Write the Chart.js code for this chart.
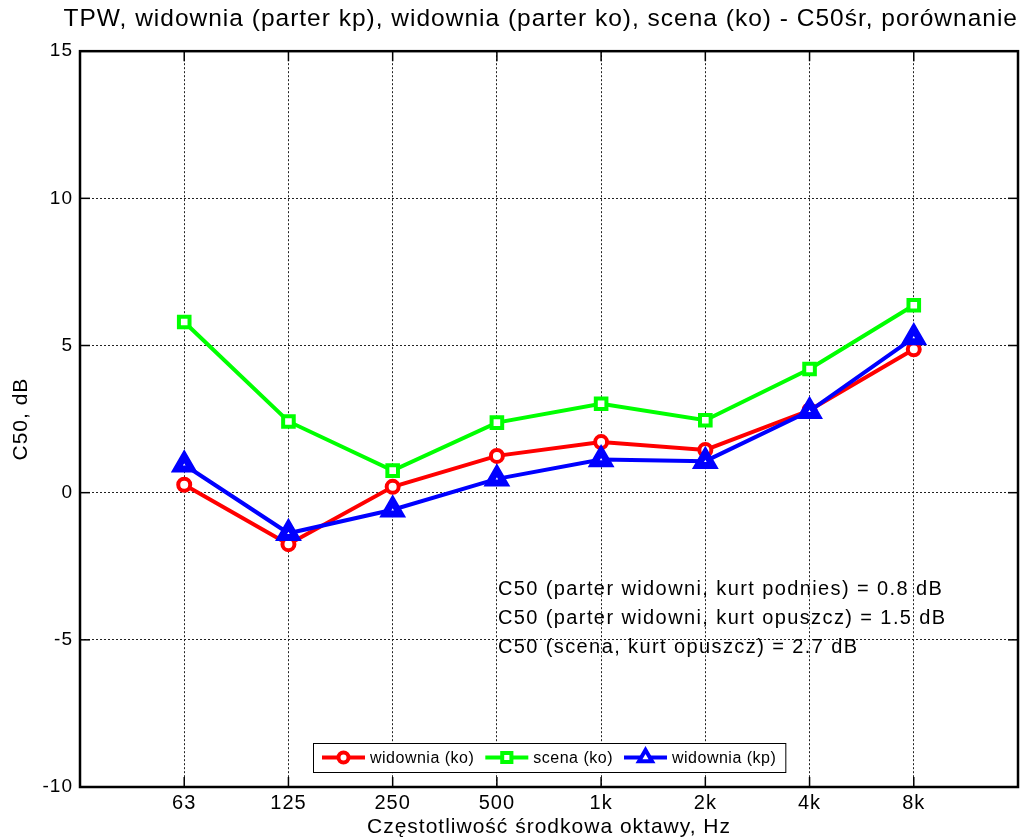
<!DOCTYPE html>
<html>
<head>
<meta charset="utf-8">
<script src="https://cdn.jsdelivr.net/npm/chart.js@4.4.1/dist/chart.umd.min.js"></script>
<style>body{margin:0;background:#fff}</style>
</head>
<body>
<canvas id="myChart" width="1026" height="840"></canvas>
<script>
// dane
const freqLabels = ['63', '125', '250', '500', '1k', '2k', '4k', '8k'];
const widowniaKo = [0.27, -1.75, 0.2, 1.25, 1.72, 1.45, 2.8, 4.87];
const scenaKo = [5.8, 2.42, 0.75, 2.38, 3.02, 2.46, 4.2, 6.37];
const widowniaKp = [0.95, -1.38, -0.58, 0.47, 1.13, 1.07, 2.77, 5.27];
const seriesNames = ['widownia (ko)', 'scena (ko)', 'widownia (kp)'];
const notes = [
    'C50 (parter widowni, kurt podnies) = 0.8 dB',
    'C50 (parter widowni, kurt opuszcz) = 1.5 dB',
    'C50 (scena, kurt opuszcz) = 2.7 dB'
];
const FONT = '"Liberation Sans", Arial, Helvetica, sans-serif';
const SPACING = '1px';

function toPoints(vals) {
    return vals.map((v, i) => ({ x: i, y: v }));
}

function strokeLine(ctx, x1, y1, x2, y2) {
    ctx.beginPath();
    ctx.moveTo(x1, y1);
    ctx.lineTo(x2, y2);
    ctx.stroke();
}

// odstep liter jak w oryginale (matlab)
const spacingPlugin = {
    id: 'spacing',
    beforeUpdate(chart) { chart.ctx.letterSpacing = SPACING; },
    beforeLayout(chart) { chart.ctx.letterSpacing = SPACING; },
    beforeDraw(chart) { chart.ctx.letterSpacing = SPACING; }
};

// ramka, ticki do srodka, opisy i legenda
const extrasPlugin = {
    id: 'extras',
    afterDraw(chart) {
        const { ctx, chartArea: a, scales } = chart;
        ctx.save();
        ctx.strokeStyle = '#000';
        ctx.lineWidth = 1.5;
        scales.x.ticks.forEach(t => {
            const px = scales.x.getPixelForValue(t.value);
            strokeLine(ctx, px, a.bottom, px, a.bottom - 10);
            strokeLine(ctx, px, a.top, px, a.top + 10);
        });
        scales.y.ticks.forEach(t => {
            const py = scales.y.getPixelForValue(t.value);
            strokeLine(ctx, a.left, py, a.left + 10, py);
            strokeLine(ctx, a.right, py, a.right - 10, py);
        });
        ctx.lineWidth = 2.5;
        ctx.strokeRect(a.left, a.top, a.right - a.left, a.bottom - a.top);

        // opisy
        ctx.fillStyle = '#000';
        ctx.font = '20px ' + FONT;
        ctx.letterSpacing = '1.4px';
        ctx.textBaseline = 'middle';
        ctx.textAlign = 'left';
        const nx = scales.x.getPixelForValue(3) + 1;
        notes.forEach((n, i) => {
            ctx.fillText(n, nx, scales.y.getPixelForValue(-3) + i * 29 + 9);
        });

        // legenda
        ctx.font = '16px ' + FONT;
        ctx.letterSpacing = '0.5px';
        const sample = 43, gapA = 5, gapB = 11, padL = 9, padR = 9, h = 29;
        const sets = chart.data.datasets;
        let total = padL + padR;
        sets.forEach((d, i) => {
            total += sample + gapA + ctx.measureText(d.label).width;
            if (i < sets.length - 1) total += gapB;
        });
        const cx = (a.left + a.right) / 2;
        let x = Math.round(cx - total / 2);
        const y0 = a.bottom - 15 - h;
        ctx.fillStyle = '#fff';
        ctx.fillRect(x, y0, total, h);
        ctx.lineWidth = 1;
        ctx.strokeStyle = '#000';
        ctx.strokeRect(x + 0.5, y0 + 0.5, total, h);
        x += padL;
        const my = y0 + h / 2;
        sets.forEach(d => {
            ctx.strokeStyle = d.borderColor;
            ctx.lineWidth = 4;
            strokeLine(ctx, x, my, x + sample, my);
            ctx.fillStyle = '#fff';
            Chart.helpers.drawPoint(ctx, {
                pointStyle: d.pointStyle, radius: d.legendRadius, rotation: 0, borderWidth: d.pointBorderWidth - 0.5
            }, x + sample / 2, my);
            x += sample + gapA;
            ctx.fillStyle = '#000';
            ctx.fillText(d.label, x, my + 1);
            x += ctx.measureText(d.label).width + gapB;
        });
        ctx.restore();
    }
};

const gridOpts = {
    color: '#222',
    lineWidth: 1,
    drawTicks: false
};

const ctx = document.getElementById('myChart').getContext('2d');
ctx.letterSpacing = SPACING;
const myChart = new Chart(ctx, {
    type: 'line',
    data: {
        datasets: [
            {
                label: seriesNames[0],
                data: toPoints(widowniaKo),
                borderColor: '#ff0000',
                pointStyle: 'circle',
                pointRadius: 6,
                pointBorderWidth: 4,
                legendRadius: 5,
                order: 3
            },
            {
                label: seriesNames[1],
                data: toPoints(scenaKo),
                borderColor: '#00ff00',
                pointStyle: 'rect',
                pointRadius: 7.5,
                pointBorderWidth: 4,
                legendRadius: 6.5,
                order: 2
            },
            {
                label: seriesNames[2],
                data: toPoints(widowniaKp),
                borderColor: '#0000ff',
                pointStyle: 'triangle',
                pointRadius: 8.5,
                pointBorderWidth: 7,
                legendRadius: 7.5,
                order: 1
            }
        ].map(d => Object.assign({
            borderWidth: 4,
            pointBackgroundColor: '#fff',
            pointBorderColor: d.borderColor,
            tension: 0,
            fill: false
        }, d))
    },
    options: {
        responsive: false,
        animation: false,
        events: [],
        layout: { autoPadding: false, padding: { top: 0, left: 0, right: 8, bottom: 0 } },
        plugins: {
            legend: { display: false },
            tooltip: { enabled: false },
            title: {
                display: true,
                align: 'end',
                text: 'TPW, widownia (parter kp), widownia (parter ko), scena (ko) - C50śr, porównanie',
                color: '#000',
                font: { family: FONT, size: 24.5, weight: 'normal', lineHeight: 1.15 },
                padding: { top: 5, bottom: 18 }
            }
        },
        scales: {
            x: {
                type: 'linear',
                min: -1,
                max: 8,
                afterFit: s => { s.height = 53; s.paddingLeft = 0; s.paddingRight = 0; },
                afterBuildTicks: s => { s.ticks = s.ticks.filter(t => t.value >= 0 && t.value <= 7); },
                ticks: {
                    stepSize: 1,
                    autoSkip: false,
                    maxRotation: 0,
                    padding: 4,
                    color: '#000',
                    font: { family: FONT, size: 20 },
                    callback: v => freqLabels[v]
                },
                grid: Object.assign({}, gridOpts),
                border: { display: false, dash: [2, 2] },
                title: {
                    display: true,
                    text: 'Częstotliwość środkowa oktawy, Hz',
                    color: '#000',
                    font: { family: FONT, size: 21 },
                    padding: { top: 0, bottom: 0 }
                }
            },
            y: {
                min: -10,
                max: 15,
                afterFit: s => { s.width = 80; },
                ticks: {
                    stepSize: 5,
                    padding: 7,
                    color: '#000',
                    font: { family: FONT, size: 19 }
                },
                grid: Object.assign({}, gridOpts),
                border: { display: false, dash: [2, 2] },
                title: {
                    display: true,
                    text: 'C50, dB',
                    color: '#000',
                    font: { family: FONT, size: 21 },
                    padding: { top: 9, bottom: 0 }
                }
            }
        }
    },
    plugins: [spacingPlugin, extrasPlugin]
});
</script>
</body>
</html>
